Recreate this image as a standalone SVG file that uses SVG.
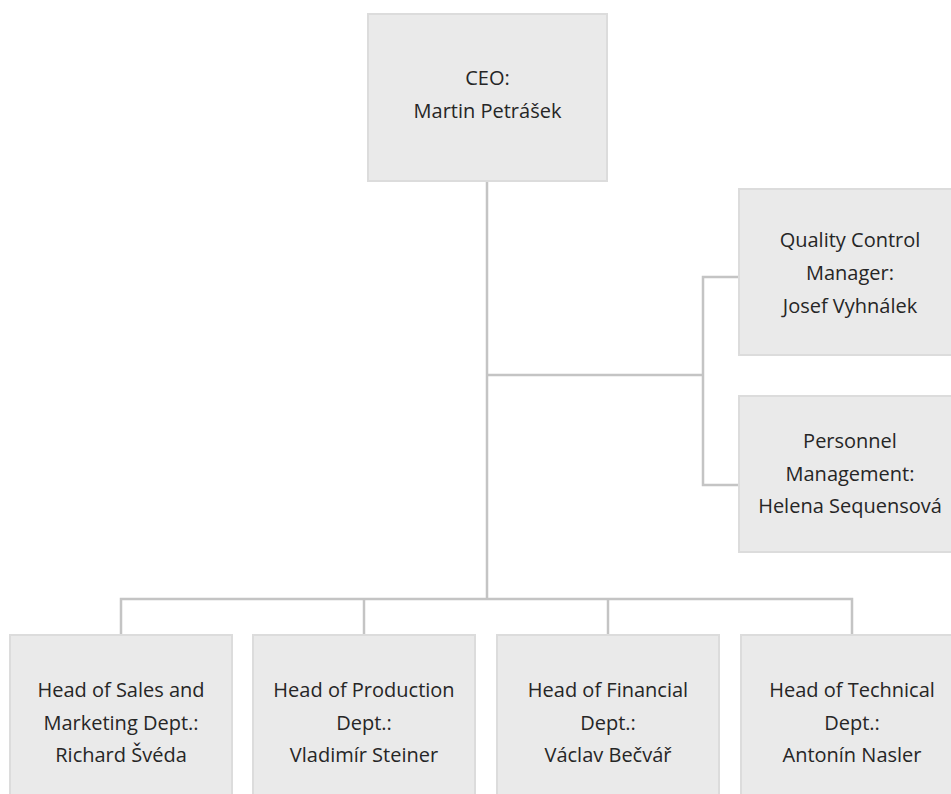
<svg xmlns="http://www.w3.org/2000/svg" width="951" height="794" viewBox="0 0 951 794">
<style>
.box{fill:#eaeaea;stroke:#dcdcdc;stroke-width:2}
.t{font-family:"Open Sans","Noto Sans","Liberation Sans",sans-serif;font-size:20px;fill:#262626;text-anchor:middle}
.c{fill:none;stroke:#c4c4c4;stroke-width:2.5}
</style>
<rect width="951" height="794" fill="#fff"/>
<g id="connectors">
<path class="c" d="M487,181 V599"/>
<path class="c" d="M487,375 H703"/>
<path class="c" d="M739,277 H703 V485 H739"/>
<path class="c" d="M121,635 V599 H852 V635"/>
<path class="c" d="M364,599 V635"/>
<path class="c" d="M608,599 V635"/>
</g>
<g id="ceo">
<rect class="box" x="368" y="14" width="239" height="167"/>
<text class="t" x="487.5" y="85">CEO:</text>
<text class="t" x="487.5" y="118">Martin Petrášek</text>
</g>
<g id="quality">
<rect class="box" x="739" y="189" width="222" height="166"/>
<text class="t" x="850" y="247">Quality Control</text>
<text class="t" x="850" y="280">Manager:</text>
<text class="t" x="850" y="313">Josef Vyhnálek</text>
</g>
<g id="personnel">
<rect class="box" x="739" y="396" width="222" height="156"/>
<text class="t" x="850" y="448">Personnel</text>
<text class="t" x="850" y="480.5">Management:</text>
<text class="t" x="850" y="513">Helena Sequensová</text>
</g>
<g id="sales">
<rect class="box" x="10" y="635" width="222" height="180"/>
<text class="t" x="121" y="697">Head of Sales and</text>
<text class="t" x="121" y="729.5">Marketing Dept.:</text>
<text class="t" x="121" y="762">Richard Švéda</text>
</g>
<g id="production">
<rect class="box" x="253" y="635" width="222" height="180"/>
<text class="t" x="364" y="697">Head of Production</text>
<text class="t" x="364" y="729.5">Dept.:</text>
<text class="t" x="364" y="762">Vladimír Steiner</text>
</g>
<g id="financial">
<rect class="box" x="497" y="635" width="222" height="180"/>
<text class="t" x="608" y="697">Head of Financial</text>
<text class="t" x="608" y="729.5">Dept.:</text>
<text class="t" x="608" y="762">Václav Bečvář</text>
</g>
<g id="technical">
<rect class="box" x="741" y="635" width="222" height="180"/>
<text class="t" x="852" y="697">Head of Technical</text>
<text class="t" x="852" y="729.5">Dept.:</text>
<text class="t" x="852" y="762">Antonín Nasler</text>
</g>
</svg>
